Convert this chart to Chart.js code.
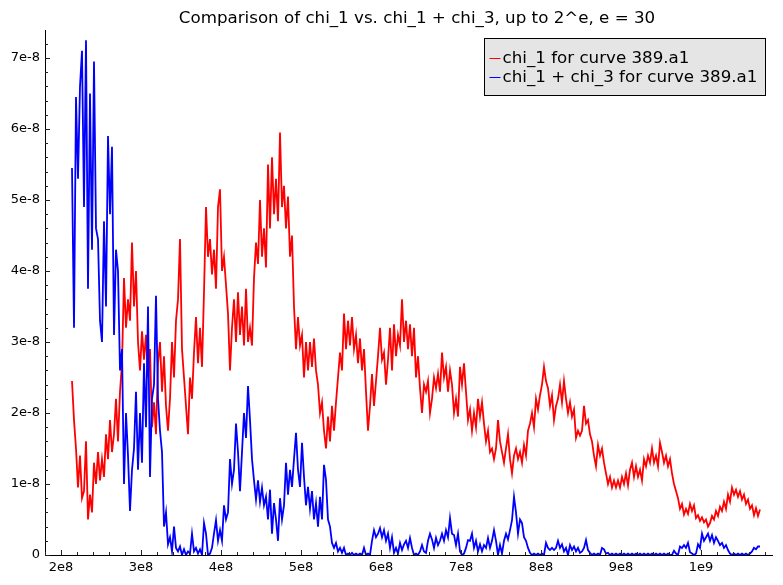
<!DOCTYPE html>
<html>
<head>
<meta charset="utf-8">
<title>chi_1 vs chi_1 + chi_3</title>
<script src="https://cdn.jsdelivr.net/npm/chart.js@4.4.0/dist/chart.umd.min.js"></script>
<style>
    html, body { margin: 0; padding: 0; background: #ffffff; }
    #chart { display: block; }
</style>
</head>
<body>
<canvas id="chart" width="783" height="585"></canvas>
<script>
// ==================== Data ====================
// x is in units of 1e8, y in units of 1e-8 (labels carry the exponent)
const xStart = 2.1375;
const xStep = 0.025;

const chi1Values = [
    2.45, 1.9, 1.5, 0.95, 1.4, 0.8, 0.9, 1.6, 0.5, 0.85,
    0.6, 1.3, 1.0, 1.45, 1.05, 1.35, 1.1, 1.7, 1.35, 1.9,
    1.45, 1.7, 2.2, 1.6, 2.3, 2.7, 3.9, 3.2, 3.6, 3.3,
    4.4, 3.5, 4.0, 3.0, 2.6, 3.15, 2.75, 3.1, 2.5, 2.9,
    1.8, 2.15, 1.7, 2.7, 3.0, 2.3, 2.8, 2.1, 1.75, 2.2,
    3.0, 2.5, 3.3, 3.6, 4.45, 2.9, 2.5, 2.1, 1.7, 2.5,
    2.2, 2.85, 3.35, 2.7, 3.2, 2.65, 3.7, 4.9, 4.2, 4.45,
    3.95, 4.3, 3.75, 4.9, 5.15, 4.0, 4.2, 3.8, 3.4, 2.6,
    3.2, 3.6, 3.0, 3.7, 3.1, 3.5, 2.95, 3.75, 3.0, 3.2,
    2.95, 3.9, 4.4, 4.1, 5.0, 4.2, 4.6, 4.05, 5.5, 4.6,
    5.6, 4.8, 5.3, 4.7, 5.95, 4.9, 5.2, 4.6, 5.05, 4.2,
    4.5, 3.5, 2.9, 3.35, 2.95, 3.1, 2.5, 3.0, 2.6, 3.0,
    2.65, 3.05, 2.6, 2.4, 2.0, 2.15, 1.75, 1.5, 1.95, 1.6,
    2.1, 1.75, 2.15, 2.5, 2.85, 2.6, 3.4, 2.9, 3.3, 2.95,
    3.35, 2.9, 3.1, 2.7, 3.05, 2.6, 2.9, 2.3, 1.75, 2.1,
    2.55, 2.1, 2.45, 2.8, 3.2, 2.75, 2.85, 2.4, 2.75, 3.2,
    2.6, 3.25, 2.8, 3.1, 2.95, 3.6, 3.0, 3.3, 2.9, 3.25,
    2.8, 3.2, 2.5, 2.8, 2.35, 2.0, 2.4, 2.3, 2.45, 2.0,
    2.2, 2.5, 2.35, 2.55, 2.3, 2.85, 2.5, 2.65, 2.3, 2.6,
    2.4, 2.0, 2.2, 1.95, 2.65, 2.4, 2.7, 2.3, 1.9, 2.05,
    1.75, 2.0, 1.8, 2.2, 1.95, 2.15, 1.85, 1.6, 1.75, 1.45,
    1.5, 1.35, 1.5, 1.9, 1.6, 1.45, 1.3, 1.5, 1.7, 1.35,
    1.15, 1.4, 1.5, 1.35, 1.45, 1.3, 1.55, 1.4, 1.75, 1.85,
    2.0, 1.8, 2.2, 2.05, 2.25, 2.4, 2.65, 2.45, 2.35, 2.1,
    2.25, 1.9, 2.1, 2.2, 2.4, 2.15, 2.45, 2.2, 2.0, 2.15,
    1.95, 2.05, 1.65, 1.75, 1.68, 1.75, 2.1, 1.85, 1.9, 1.7,
    1.6, 1.4, 1.25, 1.55, 1.4, 1.5, 1.3, 1.15, 1.0, 1.1,
    0.95, 1.05, 0.95, 1.05, 0.95, 1.1, 1.0, 1.15, 0.98, 1.2,
    1.3, 1.1, 1.25, 1.1, 1.2, 1.05, 1.35, 1.25, 1.4, 1.3,
    1.5, 1.3, 1.4, 1.25, 1.58, 1.45, 1.3, 1.4, 1.25, 1.35,
    1.15, 1.0, 0.9, 0.8, 0.65, 0.72, 0.57, 0.65, 0.58, 0.72,
    0.62, 0.7, 0.52, 0.56, 0.48, 0.53, 0.46, 0.5, 0.4, 0.45,
    0.55, 0.5, 0.62, 0.55, 0.68, 0.62, 0.75, 0.65, 0.85, 0.75,
    0.95, 0.85, 0.92, 0.82, 0.9, 0.78, 0.85, 0.72, 0.78, 0.65,
    0.7, 0.56, 0.66, 0.55, 0.64
];

const chi13Values = [
    5.45, 3.2, 6.45, 5.3, 6.6, 7.1, 4.9, 7.25, 3.75, 6.5,
    4.3, 6.95, 4.6, 4.45, 3.3, 3.0, 4.7, 3.5, 5.9, 4.8,
    5.75, 3.1, 4.3, 4.0, 2.6, 2.9, 1.0, 2.0, 1.4, 0.62,
    1.2, 1.5, 2.3, 1.2, 2.0, 1.3, 2.7, 1.8, 3.5, 1.1,
    2.2, 2.4, 3.65, 2.2, 1.75, 1.45, 0.4, 0.6, 0.15, 0.25,
    0.05, 0.4, 0.1, 0.05, 0.12, 0.0, 0.08, 0.0, 0.05, 0.02,
    0.3, 0.05, 0.1, 0.02, 0.08, 0.0, 0.45, 0.3, 0.0, 0.02,
    0.1, 0.3, 0.49, 0.2, 0.35, 0.2, 0.7, 0.5, 0.6, 1.35,
    1.0, 1.2, 1.85, 1.45, 0.9, 1.45, 2.0, 1.65, 2.38, 1.9,
    1.35, 1.05, 0.78, 1.05, 0.75, 0.95, 0.7, 0.82, 0.5, 0.92,
    0.3, 0.73, 0.5, 0.2, 0.8, 0.5, 0.7, 1.3, 0.85, 1.2,
    0.96, 1.35, 1.72, 1.2, 0.96, 1.58, 1.1, 0.7, 0.96, 0.65,
    0.9, 0.5, 0.73, 0.4, 0.82, 0.5, 1.27, 1.06, 0.5, 0.4,
    0.17, 0.1, 0.17, 0.05, 0.1, 0.03, 0.1, 0.0, 0.02, 0.0,
    0.03, 0.0, 0.02, 0.0, 0.02, 0.0, 0.1, 0.0, 0.02, 0.0,
    0.2, 0.35, 0.25, 0.3, 0.38, 0.25, 0.35, 0.2, 0.3, 0.1,
    0.25, 0.03, 0.1, 0.02, 0.17, 0.07, 0.15, 0.2, 0.1, 0.24,
    0.1, 0.0, 0.02, 0.0, 0.05, 0.14, 0.05, 0.03, 0.2, 0.3,
    0.22, 0.1, 0.24, 0.14, 0.2, 0.3, 0.2, 0.35, 0.25, 0.52,
    0.3, 0.28, 0.14, 0.3, 0.05, 0.0, 0.02, 0.1, 0.21, 0.2,
    0.3, 0.1, 0.2, 0.05, 0.15, 0.05, 0.14, 0.1, 0.24, 0.1,
    0.2, 0.35, 0.2, 0.0, 0.14, 0.02, 0.2, 0.3, 0.22, 0.35,
    0.49, 0.82, 0.6, 0.3, 0.5, 0.45, 0.25, 0.2, 0.1, 0.03,
    0.0, 0.02, 0.0, 0.02, 0.0, 0.02, 0.0, 0.17, 0.1, 0.07,
    0.1, 0.07, 0.1, 0.2, 0.1, 0.15, 0.05, 0.1, 0.0, 0.14,
    0.07, 0.12, 0.05, 0.1, 0.03, 0.05, 0.1, 0.21, 0.07, 0.03,
    0.0, 0.02, 0.0, 0.02, 0.0, 0.1, 0.08, 0.02, 0.03, 0.0,
    0.02, 0.0, 0.02, 0.0, 0.02, 0.0, 0.02, 0.0, 0.02, 0.0,
    0.02, 0.0, 0.02, 0.0, 0.02, 0.0, 0.02, 0.0, 0.02, 0.0,
    0.02, 0.0, 0.02, 0.0, 0.02, 0.0, 0.02, 0.0, 0.02, 0.0,
    0.0, 0.06, 0.02, 0.0, 0.12, 0.1, 0.14, 0.1, 0.17, 0.04,
    0.02, 0.0, 0.02, 0.15, 0.1, 0.3, 0.2, 0.25, 0.3, 0.2,
    0.28, 0.17, 0.25, 0.2, 0.14, 0.17, 0.1, 0.14, 0.07, 0.02,
    0.0, 0.02, 0.0, 0.02, 0.0, 0.02, 0.0, 0.02, 0.0, 0.02,
    0.05, 0.1, 0.08, 0.12, 0.12
];

const xTickValues = [2, 3, 4, 5, 6, 7, 8, 9, 10];
const xTickLabels = ['2e8', '3e8', '4e8', '5e8', '6e8', '7e8', '8e8', '9e8', '1e9'];
const yTickValues = [0, 1, 2, 3, 4, 5, 6, 7];
const yTickLabels = ['0', '1e-8', '2e-8', '3e-8', '4e-8', '5e-8', '6e-8', '7e-8'];

const seriesLabels = ['chi_1 for curve 389.a1', 'chi_1 + chi_3 for curve 389.a1'];
const seriesColors = ['#ff0000', '#0000ff'];
const chartTitle = 'Comparison of chi_1 vs. chi_1 + chi_3, up to 2^e, e = 30';

const FONT = '"DejaVu Sans", Verdana, sans-serif';

function toPoints(values) {
    return values.map((v, i) => ({ x: xStart + i * xStep, y: v }));
}

// ==================== Sage-style frame, ticks, title, legend ====================

const sageFrame = {
    id: 'sageFrame',
    afterDatasetsDraw(chart) {
        const { ctx, chartArea: area, scales } = chart;
        const xs = scales.x;
        const ys = scales.y;
        ctx.save();

        // axes
        ctx.strokeStyle = '#000';
        ctx.lineWidth = 1;
        ctx.beginPath();
        ctx.moveTo(area.left + 0.5, area.top);
        ctx.lineTo(area.left + 0.5, area.bottom + 1);
        ctx.moveTo(area.left + 3, area.bottom + 0.5);
        ctx.lineTo(area.right, area.bottom + 0.5);
        ctx.stroke();

        // x ticks (inside, minor every 0.2)
        ctx.strokeStyle = '#222';
        ctx.beginPath();
        for (let k = 9; k <= 54; k++) {
            const px = Math.round(xs.getPixelForValue(k / 5)) + 0.5;
            const len = k % 5 === 0 ? 5 : 3;
            ctx.moveTo(px, area.bottom);
            ctx.lineTo(px, area.bottom - len);
        }
        // y ticks
        for (let k = 0; k <= 36; k++) {
            const py = Math.round(ys.getPixelForValue(k / 5)) + 0.5;
            const len = k % 5 === 0 ? 5 : 3;
            ctx.moveTo(area.left, py);
            ctx.lineTo(area.left + len, py);
        }
        ctx.stroke();

        // tick labels
        ctx.fillStyle = '#000';
        ctx.font = '13px ' + FONT;
        ctx.textAlign = 'center';
        ctx.textBaseline = 'middle';
        xTickValues.forEach((v, i) => {
            ctx.fillText(xTickLabels[i], xs.getPixelForValue(v), area.bottom + 13);
        });
        ctx.textAlign = 'right';
        yTickValues.forEach((v, i) => {
            ctx.fillText(yTickLabels[i], area.left - 5, ys.getPixelForValue(v));
        });

        // title
        ctx.font = '16.7px ' + FONT;
        ctx.textAlign = 'center';
        ctx.fillText(chartTitle, 417, 19);

        // legend
        const box = { left: 484.5, top: 38.5, width: 281, height: 57 };
        ctx.fillStyle = '#e5e5e5';
        ctx.fillRect(box.left, box.top, box.width, box.height);
        ctx.strokeStyle = '#000';
        ctx.strokeRect(box.left, box.top, box.width, box.height);
        ctx.textAlign = 'left';
        seriesLabels.forEach((label, i) => {
            const cy = box.top + 20 + i * 19;
            ctx.strokeStyle = seriesColors[i];
            ctx.beginPath();
            ctx.moveTo(box.left + 5, cy);
            ctx.lineTo(box.left + 16, cy);
            ctx.stroke();
            ctx.fillStyle = '#000';
            ctx.fillText(label, box.left + 18, cy);
        });

        ctx.restore();
    }
};

// ==================== Chart ====================

new Chart(document.getElementById('chart'), {
    type: 'line',
    data: {
        datasets: [
            {
                label: seriesLabels[0],
                data: toPoints(chi1Values),
                borderColor: seriesColors[0],
                order: 2
            },
            {
                label: seriesLabels[1],
                data: toPoints(chi13Values),
                borderColor: seriesColors[1],
                order: 1
            }
        ]
    },
    options: {
        responsive: false,
        animation: false,
        devicePixelRatio: 1,
        layout: { padding: { left: 45, right: 10, top: 30, bottom: 30 } },
        elements: {
            point: { radius: 0 },
            line: { borderWidth: 1.8, tension: 0, fill: false }
        },
        plugins: {
            legend: { display: false },
            title: { display: false },
            tooltip: { enabled: false }
        },
        scales: {
            x: { type: 'linear', min: 1.8, max: 10.9, display: false },
            y: { type: 'linear', min: 0, max: 7.394, display: false }
        }
    },
    plugins: [sageFrame]
});
</script>
</body>
</html>
